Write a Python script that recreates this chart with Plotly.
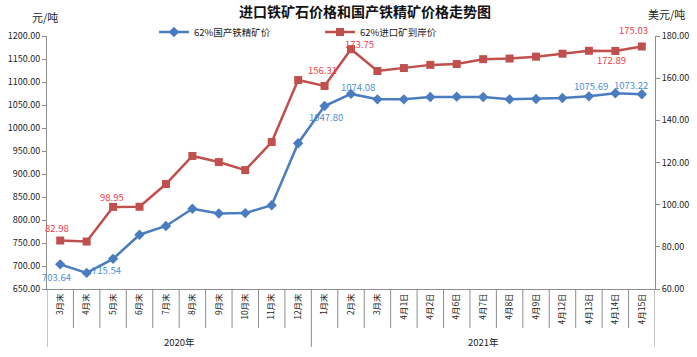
import plotly.graph_objects as go

categories = ["3月末", "4月末", "5月末", "6月末", "7月末", "8月末", "9月末", "10月末", "11月末", "12月末",
              "1月末", "2月末", "3月末", "4月1日", "4月2日", "4月6日", "4月7日", "4月8日", "4月9日",
              "4月12日", "4月13日", "4月14日", "4月15日"]
years = ["2020年"] * 10 + ["2021年"] * 13

domestic = [703.64, 685.0, 715.54, 768.0, 787.0, 824.5, 814.0, 815.0, 832.0, 967.0,
            1047.80, 1074.08, 1062.3, 1062.3, 1067.4, 1068.1, 1067.4, 1062.3, 1063.0,
            1065.2, 1068.8, 1075.69, 1073.22]
imported = [82.98, 82.5, 98.95, 99.0, 109.8, 123.1, 120.2, 116.4, 129.7, 159.1,
            156.31, 173.75, 163.4, 164.8, 166.3, 166.7, 169.0, 169.3, 170.2,
            171.6, 173.0, 172.89, 175.03]

name_dom = "62%国产铁精矿价"
name_imp = "62%进口矿到岸价"
title = "进口铁矿石价格和国产铁精矿价格走势图"
left_unit = "元/吨"
right_unit = "美元/吨"

# which points carry data labels, and pixel offsets of the label (style only)
dom_labels = {0: (-4, -13), 2: (-7, -11), 10: (1, -11), 11: (7, 7), 21: (-24, 7), 22: (-11, 9)}
imp_labels = {0: (-3, 13), 2: (-1, 10), 10: (-2, 16), 11: (8, 5), 21: (-4, -9), 22: (-8, 16)}

FONT = "Noto Sans CJK SC"
BLUE = "#4A7DBF"
RED = "#C0504D"
BLUE_TXT = "#4A8FD6"
RED_TXT = "#EE3B45"
AXIS = "#8C8C8C"

xs = list(range(len(categories)))

fig = go.Figure()
fig.add_trace(go.Scatter(x=xs, y=domestic, name=name_dom, mode="lines+markers",
                         line=dict(color=BLUE, width=2.5),
                         marker=dict(symbol="diamond", size=8, color=BLUE)))
fig.add_trace(go.Scatter(x=xs, y=imported, name=name_imp, mode="lines+markers", yaxis="y2",
                         line=dict(color=RED, width=2.5),
                         marker=dict(symbol="square", size=8, color=RED)))

annotations = []
for i, (dx, dy) in dom_labels.items():
    annotations.append(dict(x=i, y=domestic[i], xref="x", yref="y", text=f"{domestic[i]:.2f}",
                            showarrow=False, xshift=dx, yshift=dy,
                            font=dict(family=FONT, size=9.5, color=BLUE_TXT)))
for i, (dx, dy) in imp_labels.items():
    annotations.append(dict(x=i, y=imported[i], xref="x", yref="y2", text=f"{imported[i]:.2f}",
                            showarrow=False, xshift=dx, yshift=dy,
                            font=dict(family=FONT, size=9.5, color=RED_TXT)))

# plot area geometry in px (used to convert to paper fractions)
PH = 253.0
inner_depth = -(328 - 289) / PH
outer_depth = -(347 - 289) / PH

shapes = []
# separators between categories
for i in range(1, len(categories)):
    boundary = years[i] != years[i - 1]
    shapes.append(dict(type="line", xref="x", yref="paper", x0=i - 0.5, x1=i - 0.5,
                       y0=0, y1=outer_depth if boundary else inner_depth,
                       line=dict(color=AXIS, width=1)))
# outer edges
for xe in (-0.5, len(categories) - 0.5):
    shapes.append(dict(type="line", xref="x", yref="paper", x0=xe, x1=xe,
                       y0=0, y1=outer_depth, line=dict(color=AXIS, width=1)))

# year group labels
groups = []
for i, yv in enumerate(years):
    if not groups or groups[-1][0] != yv:
        groups.append([yv, i, i])
    else:
        groups[-1][2] = i
for yv, a, b in groups:
    annotations.append(dict(x=(a + b) / 2, y=-(341.5 - 289) / PH, xref="x", yref="paper",
                            text=yv, showarrow=False, yanchor="middle",
                            font=dict(family=FONT, size=9.5, color="#222")))

annotations.append(dict(x=-0.003, y=1 + (36 - 17) / PH, xref="paper", yref="paper", text=left_unit,
                        showarrow=False, xanchor="center", yanchor="middle",
                        font=dict(family=FONT, size=11, color="#222")))
annotations.append(dict(x=1 + (667 - 655) / 608, y=1 + (36 - 14) / PH, xref="paper", yref="paper",
                        text=right_unit, showarrow=False, xanchor="center", yanchor="middle",
                        font=dict(family=FONT, size=11, color="#222")))

fig.update_layout(
    width=697, height=357,
    margin=dict(l=47, r=42, t=36, b=68, autoexpand=False),
    paper_bgcolor="white", plot_bgcolor="white",
    font=dict(family=FONT, size=10, color="#222"),
    title=dict(text=title, x=365 / 697, xref="container", xanchor="center",
               y=1 - 12 / 357, yref="container", yanchor="middle",
               font=dict(family=FONT, size=14, color="#111", weight="bold")),
    showlegend=True,
    legend=dict(orientation="h", x=(154 - 47) / 608, xanchor="left", y=1 + (36 - 32) / PH,
                yanchor="middle", bgcolor="rgba(0,0,0,0)",
                font=dict(family=FONT, size=9.5, color="#222"),
                entrywidth=121, entrywidthmode="pixels", itemwidth=30),
    xaxis=dict(range=[-0.5, len(categories) - 0.5], tickmode="array", tickvals=xs,
               ticktext=categories, tickangle=-90, showgrid=False, zeroline=False,
               showline=True, linecolor=AXIS, linewidth=1, ticks="",
               tickfont=dict(family=FONT, size=8.5, color="#222")),
    yaxis=dict(range=[650, 1200], dtick=50, tick0=650, tickformat=".2f", showgrid=False,
               zeroline=False, showline=True, linecolor=AXIS, linewidth=1,
               ticks="outside", ticklen=4, tickcolor=AXIS,
               tickfont=dict(family=FONT, size=9, color="#222")),
    yaxis2=dict(range=[60, 180], dtick=20, tick0=60, tickformat=".2f", overlaying="y",
                side="right", showgrid=False, zeroline=False, showline=True, linecolor=AXIS,
                linewidth=1, ticks="outside", ticklen=4, tickcolor=AXIS,
                tickfont=dict(family=FONT, size=9, color="#222")),
    shapes=shapes,
    annotations=annotations,
)

# remove the browser's default page margin so the figure sits at the window's corner
fig.write_html("out.html", config={"displayModeBar": False},
               post_script="document.body.style.margin='0';")
